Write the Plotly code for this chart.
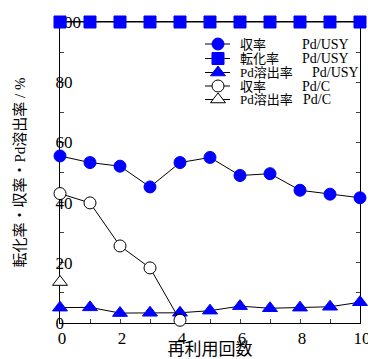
import plotly.graph_objects as go

cycles = [0, 1, 2, 3, 4, 5, 6, 7, 8, 9, 10]
usy_yield = [55.5, 53.3, 52.1, 45.2, 53.3, 55.0, 49.0, 49.6, 44.1, 42.8, 41.6]
usy_conv = [100, 100, 100, 100, 100, 100, 100, 100, 100, 100, 100]
usy_leach = [5.1, 5.2, 3.3, 3.4, 3.4, 4.1, 5.6, 4.9, 5.1, 5.4, 6.9]
c_cycles = [0, 1, 2, 3, 4]
c_yield = [43.0, 39.9, 25.6, 18.3, 0.9]
c_leach_cycles = [0]
c_leach = [13.6]

y_tickvals = [0, 20, 40, 60, 80, 100]
y_ticklabels = ["0", "20", "40", "60", "80", "100"]
x_tickvals = [0, 2, 4, 6, 8, 10]

legend_labels = ["収率", "転化率", "Pd溶出率", "収率", "Pd溶出率"]
legend_catalysts = ["Pd/USY", "Pd/USY", "Pd/USY", "Pd/C", "Pd/C"]

BLUE = "#0000ff"
FONT = "Liberation Serif, Noto Sans CJK JP, serif"
NB = "\u00a0"

styles = [
    dict(symbol="circle", size=12, color=BLUE, line=dict(color=BLUE, width=1)),
    dict(symbol="square", size=12, color=BLUE, line=dict(color=BLUE, width=1)),
    dict(symbol="triangle-up", size=13, color=BLUE, line=dict(color=BLUE, width=1)),
    dict(symbol="circle", size=12, color="white", line=dict(color="black", width=1)),
    dict(symbol="triangle-up", size=13, color="white", line=dict(color="black", width=1)),
]
series = [
    (cycles, usy_yield),
    (cycles, usy_conv),
    (cycles, usy_leach),
    (c_cycles, c_yield),
    (c_leach_cycles, c_leach),
]

fig = go.Figure()
line = dict(color="black", width=1)
for (xs, ys), st, lab, cat in zip(series, styles, legend_labels, legend_catalysts):
    fig.add_trace(go.Scatter(x=xs, y=ys, name=lab + " " + cat, mode="lines+markers",
                             line=line, cliponaxis=False, marker=st, showlegend=False))

# custom compact legend (overlay axes in page-pixel units of the plot area)
leg_rows_y = [44, 58.5, 72.5, 86, 99.5]
leg_line_x = [205, 230]
leg_mark_x = 218
leg_text_x = 238
leg_cat_x = [300, 300, 310, 300, 301]
for i, st in enumerate(styles):
    yy = leg_rows_y[i]
    fig.add_trace(go.Scatter(x=leg_line_x, y=[yy, yy], mode="lines", line=line,
                             xaxis="x2", yaxis="y2", showlegend=False, hoverinfo="skip",
                             cliponaxis=False))
    fig.add_trace(go.Scatter(x=[leg_mark_x], y=[yy], mode="markers", marker=st,
                             xaxis="x2", yaxis="y2", showlegend=False, hoverinfo="skip",
                             cliponaxis=False))
    fig.add_annotation(x=leg_text_x, y=yy, xref="x2", yref="y2", text=legend_labels[i],
                       showarrow=False, xanchor="left", yanchor="middle",
                       font=dict(family=FONT, size=13, color="black"))
    fig.add_annotation(x=leg_cat_x[i], y=yy, xref="x2", yref="y2", text=legend_catalysts[i],
                       showarrow=False, xanchor="left", yanchor="middle",
                       font=dict(family=FONT, size=14, color="black"))

# left-aligned look for y tick labels: pad short labels (2 nbsp ~ one digit)
max_len = max(len(t) for t in y_ticklabels)
y_ticktext = [t + NB * 2 * (max_len - len(t)) for t in y_ticklabels]

# the page body has an 8px margin: figure is drawn at (8, 8)
fig.update_layout(
    template="none",
    width=368, height=351,
    margin=dict(l=52, r=16, t=14, b=36, autoexpand=False),
    paper_bgcolor="white", plot_bgcolor="white",
    font=dict(family=FONT, size=16, color="black"),
    showlegend=False,
    xaxis=dict(range=[0, 10], tickvals=x_tickvals, ticks="inside", ticklen=4, tickwidth=1,
               showline=True, linecolor="black", linewidth=1, mirror="ticks",
               showgrid=False, zeroline=False, layer="below traces", automargin=True,
               minor=dict(dtick=1, ticks="inside", ticklen=4, tickwidth=1, showgrid=False),
               tickfont=dict(size=17), ticklabelshift=2,
               title=dict(text="再利用回数", font=dict(size=17), standoff=5)),
    yaxis=dict(range=[0, 100], tickvals=y_tickvals, showticklabels=False,
               ticks="inside", ticklen=4, tickwidth=1,
               showline=True, linecolor="black", linewidth=1, mirror="ticks",
               showgrid=False, zeroline=False, layer="below traces", automargin=True,
               minor=dict(dtick=10, ticks="inside", ticklen=4, tickwidth=1, showgrid=False),
               title=dict(text="転化率・収率・Pd溶出率 / %", font=dict(size=15), standoff=29)),
    yaxis3=dict(overlaying="y", anchor="free", position=0.07, side="left",
                range=[0, 100], tickvals=y_tickvals, ticktext=y_ticktext,
                ticks="", showline=False, showgrid=False, zeroline=False,
                layer="below traces", automargin=False, fixedrange=True,
                tickfont=dict(size=17)),
    xaxis2=dict(overlaying="x", range=[60, 360], visible=False, fixedrange=True),
    yaxis2=dict(overlaying="y", range=[323, 22], visible=False, fixedrange=True),
)
# invisible anchor trace so the label axis is drawn
fig.add_trace(go.Scatter(x=[None], y=[None], yaxis="y3", showlegend=False, hoverinfo="skip"))

fig.write_html("out.html")
